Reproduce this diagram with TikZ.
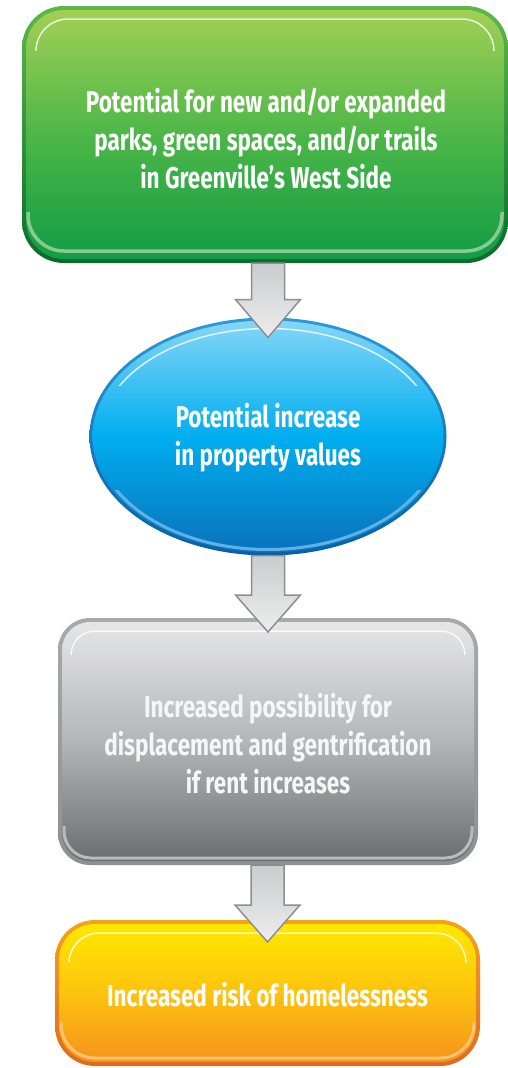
\documentclass[tikz,border=0pt]{standalone}
\usepackage{fontspec}
\newfontfamily\labfont{Fira Sans}[FakeStretch=0.75]
\usetikzlibrary{shapes.geometric,calc}
\definecolor{gbt}{HTML}{5CB947}
\definecolor{gbb}{HTML}{0A6B2D}
\definecolor{gft}{HTML}{A2CF55}
\definecolor{gfm}{HTML}{4DB748}
\definecolor{gfb}{HTML}{129C45}
\definecolor{gband}{HTML}{86CB8F}
\definecolor{bbt}{HTML}{2A9AD8}
\definecolor{bbb}{HTML}{0A5FA6}
\definecolor{bft}{HTML}{86D6F7}
\definecolor{bfm}{HTML}{00AEEF}
\definecolor{bfb}{HTML}{0A72BC}
\definecolor{bband}{HTML}{5FB2E6}
\definecolor{sbt}{HTML}{A8A9AB}
\definecolor{sbb}{HTML}{8E8F92}
\definecolor{sft}{HTML}{E6E6E7}
\definecolor{sfm}{HTML}{B4B5B7}
\definecolor{sfb}{HTML}{6C6D70}
\definecolor{sband}{HTML}{B9BABC}
\definecolor{stext}{HTML}{F6F6F6}
\definecolor{obt}{HTML}{F6A21D}
\definecolor{obb}{HTML}{DF6A1F}
\definecolor{oft}{HTML}{FFE800}
\definecolor{ofm}{HTML}{FDC30E}
\definecolor{ofb}{HTML}{F6921E}
\definecolor{oband}{HTML}{FCC46E}
\definecolor{arrt}{HTML}{CBCCCE}
\definecolor{arrb}{HTML}{EDEDED}
\definecolor{arrd}{HTML}{8D8E90}
\begin{document}
\begin{tikzpicture}[x=1pt,y=-1pt,
  frame/.style={rectangle, inner sep=0pt, outer sep=0pt},
  eframe/.style={ellipse, inner sep=0pt, outer sep=0pt},
  lab/.style={text=white, font=\labfont\bfseries\fontsize{30}{38}\selectfont, align=center, inner sep=0pt},
  shine/.style={white, opacity=0.8, line width=1.5pt},
  flowarrow/.style={top color=arrt, bottom color=arrb, draw=arrd, line width=1.5pt, line join=miter}
]
\useasboundingbox[fill=white] (0,0) rectangle (508,1068);

% ---------- green box ----------
\node[frame, minimum width=486pt, minimum height=257pt, rounded corners=42pt,
      top color=gbt, bottom color=gbb] (gf) at (265,134.5) {};
\node[frame, minimum width=478pt, minimum height=249pt, rounded corners=38pt,
      top color=gft, bottom color=gfb, middle color=gfm] (g) at (265,134.5) {};
\begin{scope}
  \clip (22,0) rectangle (508,50);
  \draw[shine, rounded corners=32pt] (36,19) rectangle (494,250);
\end{scope}
\begin{scope}
  \clip (22,212) rectangle (508,263);
  \draw[gband, line width=3.5pt, rounded corners=36pt] (28,20) rectangle (502,251);
\end{scope}
\node[lab] (gt) at (266,139) {Potential for new and/or expanded\\parks, green spaces, and/or trails\\in Greenville’s West Side};

% ---------- blue ellipse ----------
\node[eframe, minimum width=357pt, minimum height=238pt,
      top color=bbt, bottom color=bbb] (bf) at (268,436.5) {};
\node[eframe, minimum width=351pt, minimum height=232pt,
      top color=bft, bottom color=bfb, middle color=bfm] (b) at (268,436.5) {};
\begin{scope}
  \clip (80,300) rectangle (460,385);
  \draw[shine] (268,436.5) ellipse [x radius=168, y radius=108];
\end{scope}
\begin{scope}
  \clip (80,490) rectangle (460,560);
  \draw[bband, line width=3pt] (268,436.5) ellipse [x radius=172, y radius=113];
\end{scope}
\node[lab] (bt) at (268,438) {Potential increase\\in property values};

% ---------- gray box ----------
\node[frame, minimum width=420pt, minimum height=247pt, rounded corners=32pt,
      top color=sbt, bottom color=sbb] (sf) at (268,741.5) {};
\node[frame, minimum width=412pt, minimum height=239pt, rounded corners=28pt,
      top color=sft, bottom color=sfb, middle color=sfm] (s) at (268,741.5) {};
\begin{scope}
  \clip (58,600) rectangle (478,654);
  \draw[shine, rounded corners=24pt] (71,631) rectangle (465,850);
\end{scope}
\begin{scope}
  \clip (58,826) rectangle (478,866);
  \draw[sband, line width=3pt, rounded corners=27pt] (64,630) rectangle (472,858);
\end{scope}
\node[lab, text=stext] (st) at (268,744) {Increased possibility for\\displacement and gentrification\\if rent increases};

% ---------- orange box ----------
\node[frame, minimum width=425pt, minimum height=146pt, rounded corners=40pt,
      top color=obt, bottom color=obb] (of) at (267.5,993) {};
\node[frame, minimum width=417pt, minimum height=138pt, rounded corners=36pt,
      top color=oft, bottom color=ofb, middle color=ofm] (o) at (267.5,993) {};
\begin{scope}
  \clip (55,900) rectangle (480,962);
  \draw[shine, rounded corners=30pt] (69,933) rectangle (466,1050);
\end{scope}
\begin{scope}
  \clip (55,1022) rectangle (480,1068);
  \draw[oband, line width=3pt, rounded corners=34pt] (61,935) rectangle (474,1058);
\end{scope}
\node[lab] (ot) at (267.5,995) {Increased risk of homelessness};

% ---------- arrows ----------
\path let \p1=(gf.south), \p2=(bf.north) in
  [flowarrow] (\x2-16.5pt,\y1) -- (\x2-16.5pt,\y2+18pt) -- (\x2-32.5pt,\y2+18pt)
  -- (\x2,\y2-20pt) -- (\x2+32.5pt,\y2+18pt) -- (\x2+16.5pt,\y2+18pt) -- (\x2+16.5pt,\y1) -- cycle;
\path let \p1=(bf.south), \p2=(sf.north) in
  [flowarrow] (\x2-16.5pt,\y1) -- (\x2-16.5pt,\y2+23pt) -- (\x2-32.5pt,\y2+23pt)
  -- (\x2,\y2-14pt) -- (\x2+32.5pt,\y2+23pt) -- (\x2+16.5pt,\y2+23pt) -- (\x2+16.5pt,\y1) -- cycle;
\path let \p1=(sf.south), \p2=(of.north) in
  [flowarrow] (\x2-16.5pt,\y1) -- (\x2-16.5pt,\y2+15pt) -- (\x2-32.5pt,\y2+15pt)
  -- (\x2,\y2-22pt) -- (\x2+32.5pt,\y2+15pt) -- (\x2+16.5pt,\y2+15pt) -- (\x2+16.5pt,\y1) -- cycle;
\end{tikzpicture}
\end{document}
